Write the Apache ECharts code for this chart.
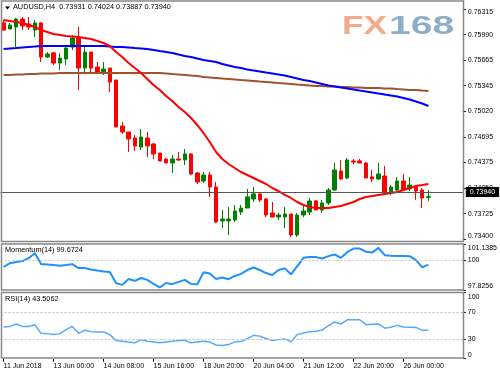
<!DOCTYPE html>
<html><head><meta charset="utf-8">
<script src="https://cdn.jsdelivr.net/npm/echarts@6/dist/echarts.min.js"></script>
<style>html,body{margin:0;padding:0;background:#fff}#c{width:500px;height:375px}</style>
</head><body><div id="c"></div>
<script>
const symbolTitle = 'AUDUSD,H4';
const lastOHLC = ['0.73931', '0.74024', '0.73887', '0.73940'];
const lastPrice = 0.73940;
const timeLabels = ['11 Jun 2018', '13 Jun 00:00', '14 Jun 08:00', '15 Jun 16:00', '18 Jun 20:00', '20 Jun 04:00', '21 Jun 12:00', '22 Jun 20:00', '26 Jun 00:00'];
const labelEvery = 8;
const slotCount = 74;
// [open, close, low, high]
const candles = [
[0.76138,0.76049,0.76036,0.76176],
[0.76062,0.76112,0.76062,0.76138],
[0.76087,0.76188,0.75833,0.76201],
[0.76188,0.76100,0.76049,0.76214],
[0.76125,0.76087,0.76049,0.76214],
[0.76049,0.76138,0.75960,0.76176],
[0.76138,0.75707,0.75644,0.76150],
[0.75707,0.75745,0.75694,0.75770],
[0.75760,0.75631,0.75606,0.75770],
[0.75631,0.75694,0.75543,0.75760],
[0.75682,0.75821,0.75606,0.75833],
[0.75833,0.75948,0.75796,0.75986],
[0.75948,0.75568,0.75290,0.76087],
[0.75568,0.75770,0.75517,0.75833],
[0.75770,0.75568,0.75517,0.75770],
[0.75580,0.75517,0.75505,0.75644],
[0.75517,0.75555,0.75480,0.75644],
[0.75568,0.75391,0.75264,0.75568],
[0.75416,0.74822,0.74822,0.75416],
[0.74834,0.74758,0.74733,0.74885],
[0.74758,0.74670,0.74505,0.74758],
[0.74682,0.74581,0.74518,0.74720],
[0.74568,0.74695,0.74530,0.74796],
[0.74682,0.74581,0.74442,0.74758],
[0.74606,0.74480,0.74416,0.74619],
[0.74492,0.74391,0.74391,0.74492],
[0.74416,0.74366,0.74366,0.74429],
[0.74366,0.74416,0.74239,0.74467],
[0.74416,0.74404,0.74391,0.74505],
[0.74404,0.74480,0.74341,0.74543],
[0.74480,0.74227,0.74214,0.74492],
[0.74239,0.74125,0.74100,0.74252],
[0.74138,0.74214,0.74113,0.74252],
[0.74214,0.74062,0.73936,0.74252],
[0.74062,0.73619,0.73606,0.74125],
[0.73632,0.73657,0.73543,0.73771],
[0.73632,0.73657,0.73454,0.73809],
[0.73644,0.73758,0.73619,0.73834],
[0.73746,0.73796,0.73708,0.73834],
[0.73796,0.73936,0.73796,0.74037],
[0.73910,0.73974,0.73872,0.74062],
[0.73974,0.73898,0.73872,0.73999],
[0.73910,0.73708,0.73682,0.73923],
[0.73733,0.73682,0.73682,0.73872],
[0.73682,0.73708,0.73644,0.73733],
[0.73682,0.73720,0.73543,0.73809],
[0.73720,0.73454,0.73429,0.73720],
[0.73454,0.73708,0.73429,0.73733],
[0.73708,0.73758,0.73682,0.73822],
[0.73746,0.73885,0.73708,0.73923],
[0.73885,0.73771,0.73771,0.73898],
[0.73771,0.73860,0.73733,0.73898],
[0.73860,0.74024,0.73834,0.74049],
[0.74024,0.74277,0.74011,0.74366],
[0.74265,0.74163,0.74151,0.74404],
[0.74176,0.74404,0.74163,0.74429],
[0.74391,0.74378,0.74353,0.74416],
[0.74391,0.74366,0.74366,0.74416],
[0.74366,0.74176,0.74176,0.74378],
[0.74189,0.74163,0.74125,0.74277],
[0.74163,0.74227,0.74151,0.74366],
[0.74201,0.73986,0.73974,0.74328],
[0.73999,0.74062,0.73961,0.74087],
[0.74024,0.74138,0.74011,0.74189],
[0.74138,0.74024,0.74011,0.74227],
[0.74037,0.74087,0.74011,0.74189],
[0.74062,0.74011,0.73898,0.74087],
[0.74024,0.73923,0.73796,0.74049],
[0.73931,0.73940,0.73887,0.74024]
];
const maFast = [0.76176,0.76163,0.76150,0.76138,0.76112,0.76087,0.76049,0.76024,0.75998,0.75986,
0.75973,0.75967,0.75960,0.75948,0.75935,0.75910,0.75885,0.75847,0.75771,0.75707,
0.75631,0.75568,0.75505,0.75429,0.75353,0.75290,0.75214,0.75150,0.75075,0.75011,
0.74935,0.74847,0.74745,0.74632,0.74505,0.74416,0.74353,0.74302,0.74252,0.74214,
0.74176,0.74138,0.74100,0.74049,0.74011,0.73961,0.73923,0.73872,0.73834,0.73809,
0.73796,0.73796,0.73796,0.73809,0.73822,0.73847,0.73872,0.73910,0.73936,0.73948,
0.73961,0.73974,0.73986,0.73999,0.74024,0.74049,0.74075,0.74087,0.74100];
const maMid = [0.75809,0.75815,0.75821,0.75828,0.75834,0.75840,0.75847,0.75847,0.75847,0.75847,
0.75847,0.75847,0.75847,0.75847,0.75847,0.75847,0.75847,0.75840,0.75834,0.75834,
0.75828,0.75821,0.75815,0.75809,0.75796,0.75783,0.75771,0.75758,0.75739,0.75720,
0.75707,0.75689,0.75670,0.75657,0.75644,0.75619,0.75600,0.75581,0.75568,0.75549,
0.75537,0.75524,0.75511,0.75499,0.75486,0.75473,0.75454,0.75435,0.75416,0.75404,
0.75385,0.75366,0.75347,0.75334,0.75321,0.75309,0.75296,0.75283,0.75271,0.75258,
0.75245,0.75233,0.75220,0.75208,0.75189,0.75170,0.75144,0.75119,0.75087];
const maSlow = [0.75480,0.75480,0.75486,0.75486,0.75492,0.75492,0.75499,0.75499,0.75499,0.75505,
0.75505,0.75505,0.75505,0.75505,0.75505,0.75505,0.75505,0.75505,0.75505,0.75505,
0.75505,0.75505,0.75505,0.75505,0.75505,0.75505,0.75499,0.75492,0.75486,0.75480,
0.75473,0.75467,0.75454,0.75448,0.75442,0.75435,0.75429,0.75423,0.75416,0.75410,
0.75404,0.75397,0.75391,0.75385,0.75378,0.75372,0.75366,0.75359,0.75353,0.75347,
0.75340,0.75340,0.75334,0.75334,0.75328,0.75328,0.75321,0.75321,0.75315,0.75315,
0.75315,0.75309,0.75309,0.75302,0.75296,0.75290,0.75290,0.75283,0.75277];
const momentum = [99.50,99.78,99.86,99.93,100.14,100.50,99.71,99.68,99.64,99.60,
99.64,99.71,99.42,99.42,99.32,99.24,99.17,99.14,98.34,98.20,
98.63,98.49,98.70,98.56,98.27,98.01,98.34,98.25,98.42,98.56,
98.27,98.25,99.11,99.03,98.63,98.73,98.61,98.85,99.00,99.28,
99.46,99.28,99.06,98.92,99.28,99.40,98.97,99.57,100.17,100.22,
100.22,100.12,100.29,100.41,100.17,100.58,100.84,100.84,100.61,100.55,
100.89,100.36,100.32,100.31,100.30,100.29,100.00,99.47,99.67];
const rsi = [48.0,48.9,52.6,48.9,48.9,51.5,38.4,38.0,36.5,38.0,
44.0,48.9,38.4,43.2,41.0,40.5,40.5,36.5,27.4,26.4,
25.2,24.0,28.9,26.4,25.2,24.0,25.2,26.4,27.4,27.9,
24.0,25.2,26.4,25.2,20.7,19.9,21.4,25.5,25.9,30.5,
35.4,34.2,30.5,27.4,28.9,30.0,25.5,36.5,39.0,41.0,
41.7,43.5,50.0,55.6,52.6,59.0,59.0,59.0,51.5,52.3,
52.6,46.2,47.7,50.5,48.0,47.7,47.4,42.9,43.5];
const priceTicks = [0.73400, 0.73725, 0.74050, 0.74375, 0.74695, 0.75020, 0.75345, 0.75665, 0.75990, 0.76315];
const momentumTicks = [97.8256, 100, 101.1385];
const rsiTicks = [0, 30, 70, 100];
const momentumLevel = 100;
const rsiLevels = [30, 70];
const momentumLabel = 'Momentum(14) 99.6724';
const rsiLabel = 'RSI(14) 43.5062';

const FONT = '"Liberation Sans", Arial, sans-serif';
const cats = Array.from({length: slotCount}, (_, i) => String(i));
const showIdx = (i) => i % labelEvery === 0 && i / labelEvery < timeLabels.length;

function xAxisFor(g, withLabels) {
  return {
    type: 'category', gridIndex: g, data: cats, boundaryGap: true,
    axisLine: {show: false},
    axisTick: withLabels ? {show: true, interval: showIdx, alignWithLabel: true, length: 3, lineStyle: {color: '#000'}} : {show: false},
    axisLabel: withLabels ? {show: true, interval: showIdx, align: 'left', fontSize: 7, color: '#000', fontFamily: FONT, margin: 4,
      formatter: (v, i) => timeLabels[i / labelEvery] || ''} : {show: false},
    splitLine: {show: false}
  };
}
function yAxisFor(g, min, max, ticks, fmt, useAlign) {
  const lab = {show: true, customValues: ticks, formatter: fmt, fontSize: 7, color: '#000', fontFamily: FONT, margin: 5,
      showMinLabel: true, showMaxLabel: true, hideOverlap: false,
      rich: {t: {fontSize: 7, color: '#000', fontFamily: FONT, padding: [8, 0, 0, 0]}}};
  if (useAlign) { lab.verticalAlignMinLabel = 'bottom'; lab.verticalAlignMaxLabel = 'top'; }
  else { lab.verticalAlignMinLabel = 'bottom'; }
  return {
    type: 'value', gridIndex: g, position: 'right', min: min, max: max, scale: true,
    axisLine: {show: false},
    axisTick: {show: true, customValues: ticks, length: 3, lineStyle: {color: '#000'}},
    axisLabel: lab,
    splitLine: {show: false}
  };
}

const chart = echarts.init(document.getElementById('c'), null, {renderer: 'canvas'});
chart.setOption({
  animation: false,
  backgroundColor: '#fff',
  textStyle: {fontFamily: FONT},
  title: [
    {text: symbolTitle + '  ' + lastOHLC.join(' '), left: 13, top: 3, padding: 0, textStyle: {fontSize: 7.3, fontWeight: 'normal', color: '#000', fontFamily: FONT}},
    {text: momentumLabel, left: 5, top: 246.5, padding: 0, textStyle: {fontSize: 7.3, fontWeight: 'normal', color: '#000', fontFamily: FONT}},
    {text: rsiLabel, left: 5, top: 295.5, padding: 0, textStyle: {fontSize: 7.3, fontWeight: 'normal', color: '#000', fontFamily: FONT}}
  ],
  grid: [
    {left: 0.5, width: 462.3, top: 1.5, height: 240},
    {left: 0.5, width: 462.3, top: 244.5, height: 45.5},
    {left: 0.5, width: 462.3, top: 292.7, height: 66}
  ],
  xAxis: [xAxisFor(0, false), xAxisFor(1, false), xAxisFor(2, true)],
  yAxis: [
    yAxisFor(0, 0.73372, 0.76410, priceTicks, v => v.toFixed(5), true),
    yAxisFor(1, 97.8256, 101.1385, momentumTicks, v => (v === 100 ? '100' : v.toFixed(4)), true),
    yAxisFor(2, 0, 100, rsiTicks, v => (v === 100 ? '{t|100}' : String(v)), false)
  ],
  series: [
    {
      type: 'candlestick', xAxisIndex: 0, yAxisIndex: 0, data: candles, barWidth: 4,
      itemStyle: {color: '#008000', color0: '#ff0000', borderColor: '#008000', borderColor0: '#ff0000', borderWidth: 1},
      markLine: {
        silent: true, symbol: ['none', 'none'],
        lineStyle: {color: '#555', type: 'solid', width: 1},
        label: {show: true, position: 'end', formatter: lastOHLC[3], color: '#fff', backgroundColor: '#000',
          padding: [2, 4, 1, 4], fontSize: 7, fontFamily: FONT, distance: 3},
        data: [{yAxis: lastPrice}]
      },
      z: 2
    },
    {type: 'line', xAxisIndex: 0, yAxisIndex: 0, data: maSlow, showSymbol: false, symbol: 'none',
      lineStyle: {color: '#a0522d', width: 2}, z: 3},
    {type: 'line', xAxisIndex: 0, yAxisIndex: 0, data: maMid, showSymbol: false, symbol: 'none',
      lineStyle: {color: '#0000ff', width: 2}, z: 3},
    {type: 'line', xAxisIndex: 0, yAxisIndex: 0, data: maFast, showSymbol: false, symbol: 'none',
      lineStyle: {color: '#ff0000', width: 2}, z: 4},
    {type: 'line', xAxisIndex: 1, yAxisIndex: 1, data: momentum, showSymbol: false, symbol: 'none',
      lineStyle: {color: '#1e90ff', width: 2}, z: 3,
      markLine: {silent: true, symbol: ['none', 'none'], label: {show: false},
        lineStyle: {color: '#c0c0c0', type: [2, 2], width: 1}, data: [{yAxis: momentumLevel}]}},
    {type: 'line', xAxisIndex: 2, yAxisIndex: 2, data: rsi, showSymbol: false, symbol: 'none',
      lineStyle: {color: '#55aaff', width: 1.5}, z: 3,
      markLine: {silent: true, symbol: ['none', 'none'], label: {show: false},
        lineStyle: {color: '#c0c0c0', type: [2, 2], width: 1}, data: rsiLevels.map(v => ({yAxis: v}))}}
  ],
  graphic: [
    {type: 'text', x: 342, y: 14, scaleX: 1.36, z: 0, silent: true,
      style: {text: 'FX', font: 'bold 26px "Liberation Sans", Arial', fill: '#f3ab8d', verticalAlign: 'top'}},
    {type: 'text', x: 389, y: 14, scaleX: 1.5, z: 0, silent: true,
      style: {text: '168', font: 'bold 26px "Liberation Sans", Arial', fill: '#8fadc4', verticalAlign: 'top'}},
    {type: 'polygon', silent: true, shape: {points: [[5, 6.5], [10, 6.5], [7.5, 9.5]]}, style: {fill: '#000'}},
    {type: 'rect', silent: true, z: 100, shape: {x: 1.5, y: 1, width: 462, height: 240.5}, style: {fill: 'none', stroke: '#888', lineWidth: 1.5}},
    {type: 'rect', silent: true, z: 100, shape: {x: 1.5, y: 244, width: 462, height: 46}, style: {fill: 'none', stroke: '#888', lineWidth: 1.5}},
    {type: 'rect', silent: true, z: 100, shape: {x: 1.5, y: 292.5, width: 462, height: 65.5}, style: {fill: 'none', stroke: '#888', lineWidth: 1.5}}
  ]
});
</script>
</body></html>
